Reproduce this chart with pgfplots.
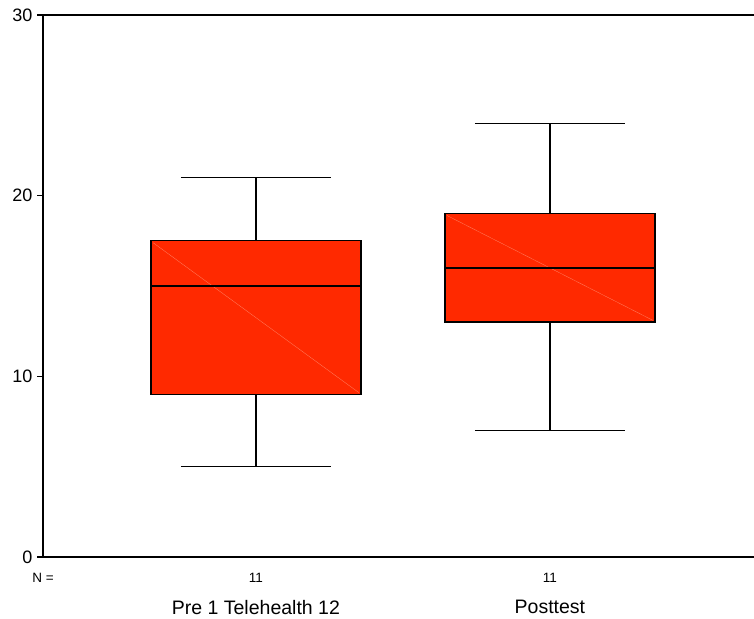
\documentclass[border=0pt]{standalone}
\usepackage{fontspec}
\setmainfont{Liberation Sans}
\usepackage{pgfplots}
\pgfplotsset{compat=1.18}
\definecolor{boxred}{RGB}{255,41,0}
\definecolor{diag}{RGB}{255,130,100}
\newcommand{\Nfont}{\fontsize{13.5}{15}\selectfont}
\begin{document}
\begin{tikzpicture}
\useasboundingbox (0,0) rectangle (754pt,618pt);
\begin{axis}[
  at={(43pt,61pt)}, anchor=south west,
  scale only axis, width=711pt, height=542pt,
  xmin=0.276, xmax=2.694, ymin=0, ymax=30,
  axis x line*=bottom, axis y line*=left,
  axis line style={line width=1.5pt, -},
  ytick={0,10,20,30},
  tick align=outside, major tick length=6pt,
  ytick style={line width=1.2pt, black},
  xtick={1,2}, xticklabels={Pre 1 Telehealth 12, Posttest},
  xtick style={draw=none},
  xticklabel style={yshift=-34pt, font=\fontsize{19.5}{22}\selectfont},
  yticklabel style={font=\fontsize{18}{21}\selectfont, xshift=-1pt},
  /pgf/number format/assume math mode=true,
  clip=false,
]
% Box 1
\addplot[fill=boxred, draw=black, line width=1.3pt] coordinates {(0.643,9) (1.357,9) (1.357,17.5) (0.643,17.5)} -- cycle;
\addplot[color=diag, line width=0.3pt] coordinates {(0.65,17.4) (1.35,9.1)};
\addplot[black, line width=1.3pt] coordinates {(0.643,15) (1.357,15)};
\addplot[black, line width=1.3pt] coordinates {(1,17.5) (1,21)};
\addplot[black, line width=1.3pt] coordinates {(1,9) (1,5)};
\addplot[black, line width=1.3pt] coordinates {(0.745,21) (1.255,21)};
\addplot[black, line width=1.3pt] coordinates {(0.745,5) (1.255,5)};
% Box 2
\addplot[fill=boxred, draw=black, line width=1.3pt] coordinates {(1.643,13) (2.357,13) (2.357,19) (1.643,19)} -- cycle;
\addplot[color=diag, line width=0.3pt] coordinates {(1.65,18.9) (2.35,13.1)};
\addplot[black, line width=1.3pt] coordinates {(1.643,16) (2.357,16)};
\addplot[black, line width=1.3pt] coordinates {(2,19) (2,24)};
\addplot[black, line width=1.3pt] coordinates {(2,13) (2,7)};
\addplot[black, line width=1.3pt] coordinates {(1.745,24) (2.255,24)};
\addplot[black, line width=1.3pt] coordinates {(1.745,7) (2.255,7)};
\draw[line width=1.5pt] (rel axis cs:0,1) -- (rel axis cs:1,1);
\node[font=\Nfont] at (axis cs:1,0) [yshift=-21pt] {11};
\node[font=\Nfont] at (axis cs:2,0) [yshift=-21pt] {11};
\node[font=\Nfont] at (rel axis cs:0,0) [yshift=-21pt] {N =};
\end{axis}
\end{tikzpicture}
\end{document}
